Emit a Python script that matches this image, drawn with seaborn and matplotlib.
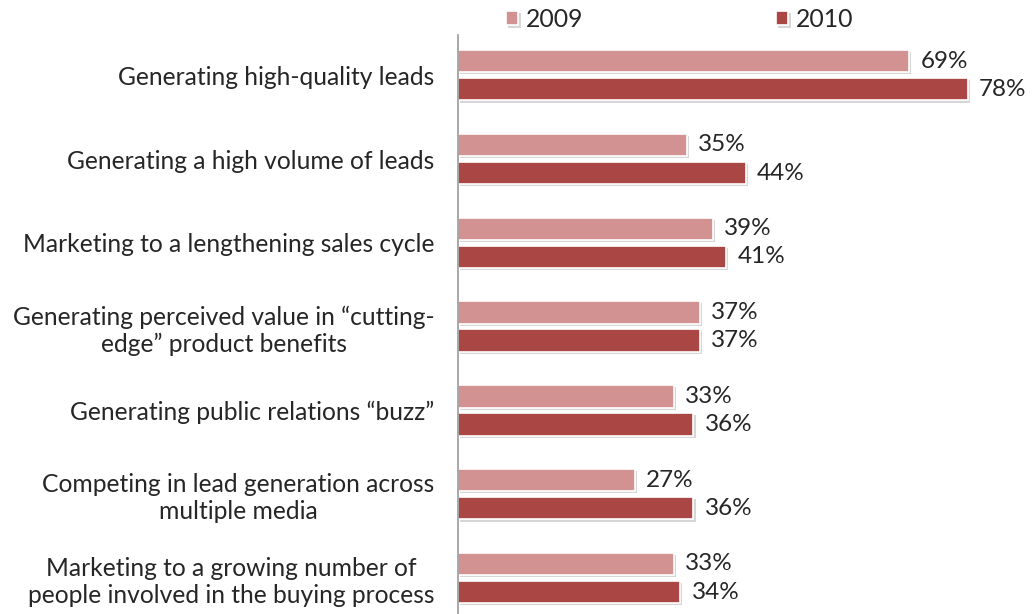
import pandas as pd
import matplotlib.pyplot as plt
import matplotlib.patheffects as pe
import seaborn as sns

categories = [
    "Generating high-quality leads",
    "Generating a high volume of leads",
    "Marketing to a lengthening sales cycle",
    "Generating perceived value in \u201ccutting-\nedge\u201d product benefits",
    "Generating public relations \u201cbuzz\u201d",
    "Competing in lead generation across\nmultiple media",
    "Marketing to a growing number of\npeople involved in the buying process",
]
values_2009 = [69, 35, 39, 37, 33, 27, 33]
values_2010 = [78, 44, 41, 37, 36, 36, 34]
years = ["2009", "2010"]
colors = ["#D39292", "#AA4644"]

df = pd.DataFrame({
    "challenge": categories * 2,
    "year": [years[0]] * len(categories) + [years[1]] * len(categories),
    "pct": values_2009 + values_2010,
})

sns.set_style("white")
plt.rcParams["font.family"] = ["Lato", "DejaVu Sans"]

fig = plt.figure(figsize=(10.33, 6.14), dpi=100)
ax = fig.add_axes([0.4434, 0.0, 0.54, 0.943])

sns.barplot(data=df, x="pct", y="challenge", hue="year", orient="h",
            palette=colors, saturation=1, width=0.67, gap=0.2, ax=ax,
            edgecolor="white", linewidth=1.2)

for p in ax.patches:
    p.set_path_effects([pe.SimplePatchShadow(offset=(1.5, -1.5), shadow_rgbFace="#bbbbbb", alpha=0.6),
                        pe.Normal()])

for cont in ax.containers:
    ax.bar_label(cont, labels=[f"{v:.0f}%" for v in cont.datavalues],
                 padding=8, fontsize=17.5)

ax.set_xlim(0, 85.3)
ax.set_ylim(6.43, -0.48)
ax.set_xlabel("")
ax.set_ylabel("")
ax.set_xticks([])
ax.tick_params(axis="y", length=0, pad=17, labelsize=17.7)
for lbl in ax.get_yticklabels():
    lbl.set_multialignment("center")

for s in ["top", "right", "bottom"]:
    ax.spines[s].set_visible(False)
ax.spines["left"].set_color("#999999")
ax.spines["left"].set_linewidth(1.2)

handles, labels = ax.get_legend_handles_labels()
ax.get_legend().remove()
fig.legend(handles, labels, loc="center", bbox_to_anchor=(0.658, 0.968), ncol=2,
           frameon=False, fontsize=17.8, handlelength=0.5, handleheight=0.5,
           handletextpad=0.3, columnspacing=7.8)

fig.savefig("out.png", dpi=100)
